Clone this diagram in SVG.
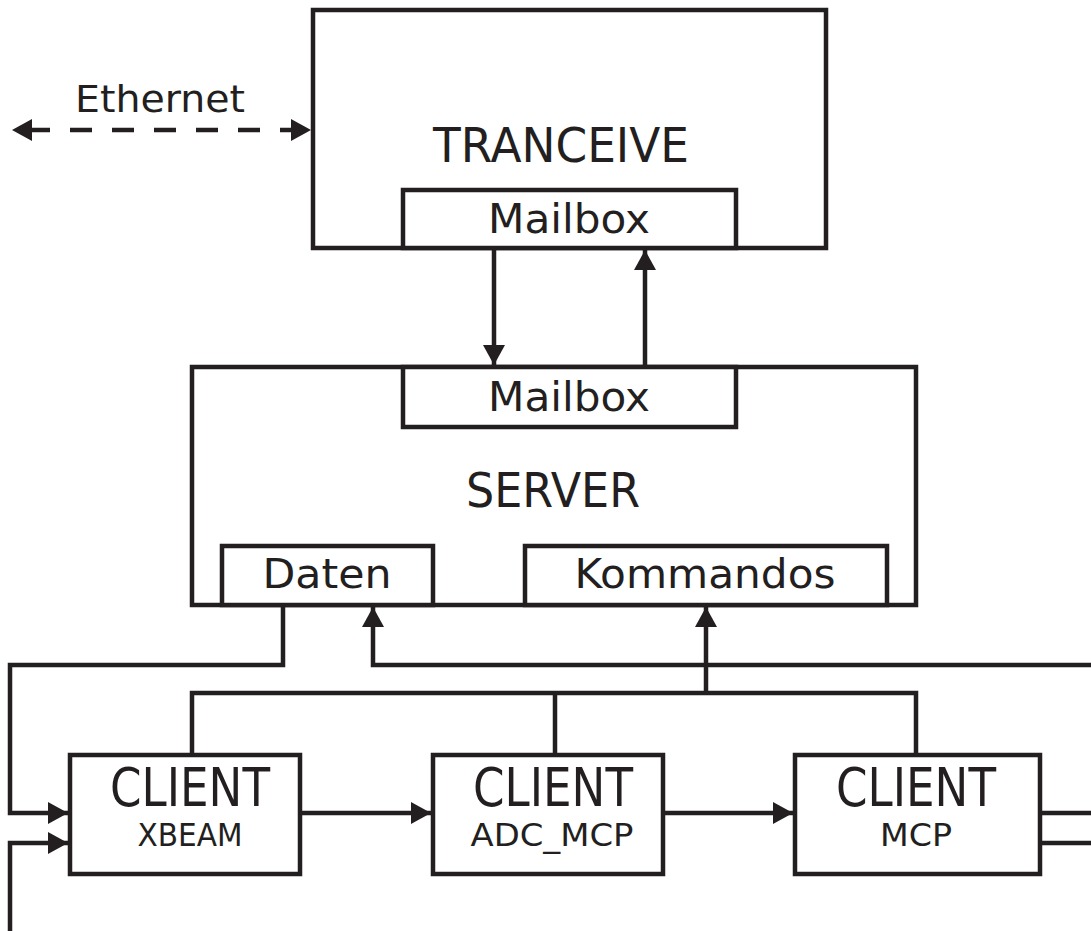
<svg xmlns="http://www.w3.org/2000/svg" width="1091" height="931" viewBox="0 0 1091 931">
<style>
.box{fill:#fff;stroke:#231f20;stroke-width:4.5}
.ln{fill:none;stroke:#231f20;stroke-width:4.5}
.t{font-family:"DejaVu Sans","Liberation Sans",sans-serif;fill:#231f20;text-anchor:middle}
</style>
<defs>
<marker id="ah" markerUnits="userSpaceOnUse" markerWidth="22" markerHeight="22" refX="20" refY="11" orient="auto">
<path d="M0,0 L20,11 L0,22 Z" fill="#231f20"/>
</marker>
<marker id="ahs" markerUnits="userSpaceOnUse" markerWidth="22" markerHeight="22" refX="2" refY="11" orient="auto">
<path d="M22,0 L2,11 L22,22 Z" fill="#231f20"/>
</marker>
</defs>
<rect width="1091" height="931" fill="#fff"/>
<g id="tranceive">
<rect class="box" x="313" y="10" width="513" height="238"/>
<text class="t" x="561" y="162" font-size="48" textLength="256" lengthAdjust="spacingAndGlyphs">TRANCEIVE</text>
</g>
<g id="mailbox-t">
<rect class="box" x="403" y="190" width="333" height="58"/>
<text class="t" x="569" y="233" font-size="40" textLength="162" lengthAdjust="spacingAndGlyphs">Mailbox</text>
</g>
<g id="server">
<rect class="box" x="192" y="367" width="724" height="238"/>
<text class="t" x="553" y="507" font-size="48" textLength="174" lengthAdjust="spacingAndGlyphs">SERVER</text>
</g>
<g id="mailbox-s">
<rect class="box" x="403" y="367" width="333" height="60"/>
<text class="t" x="569" y="411" font-size="40" textLength="162" lengthAdjust="spacingAndGlyphs">Mailbox</text>
</g>
<g id="daten">
<rect class="box" x="222" y="546" width="211" height="59"/>
<text class="t" x="327" y="588" font-size="40" textLength="129" lengthAdjust="spacingAndGlyphs">Daten</text>
</g>
<g id="kommandos">
<rect class="box" x="525" y="546" width="362" height="59"/>
<text class="t" x="705" y="588" font-size="40" textLength="261" lengthAdjust="spacingAndGlyphs">Kommandos</text>
</g>
<g id="client-xbeam">
<rect class="box" x="70" y="755" width="230" height="119"/>
<text class="t" x="190" y="806" font-size="54" textLength="160" lengthAdjust="spacingAndGlyphs">CLIENT</text>
<text class="t" x="190" y="846" font-size="32" textLength="105" lengthAdjust="spacingAndGlyphs">XBEAM</text>
</g>
<g id="client-adc">
<rect class="box" x="433" y="755" width="230" height="119"/>
<text class="t" x="553" y="806" font-size="54" textLength="160" lengthAdjust="spacingAndGlyphs">CLIENT</text>
<text class="t" x="552" y="846" font-size="32" textLength="163" lengthAdjust="spacingAndGlyphs">ADC_MCP</text>
</g>
<g id="client-mcp">
<rect class="box" x="795" y="755" width="245" height="119"/>
<text class="t" x="916" y="806" font-size="54" textLength="160" lengthAdjust="spacingAndGlyphs">CLIENT</text>
<text class="t" x="916" y="846" font-size="32" textLength="72" lengthAdjust="spacingAndGlyphs">MCP</text>
</g>
<g id="ethernet-label">
<text class="t" x="160" y="112" font-size="38" textLength="170" lengthAdjust="spacingAndGlyphs">Ethernet</text>
</g>
<g id="connectors">
<line class="ln" x1="12" y1="130" x2="311" y2="130" stroke-dasharray="22,20" stroke-dashoffset="-16" marker-start="url(#ahs)" marker-end="url(#ah)"/>
<line class="ln" x1="494" y1="248" x2="494" y2="365" marker-end="url(#ah)"/>
<line class="ln" x1="645" y1="367" x2="645" y2="250" marker-end="url(#ah)"/>
<polyline class="ln" points="283,605 283,665 10,665 10,813 68,813" marker-end="url(#ah)"/>
<polyline class="ln" points="10,931 10,843 68,843" marker-end="url(#ah)"/>
<polyline class="ln" points="1091,665 373,665 373,607" marker-end="url(#ah)"/>
<polyline class="ln" points="192,755 192,693 916,693 916,755"/>
<line class="ln" x1="555" y1="693" x2="555" y2="755"/>
<line class="ln" x1="706" y1="693" x2="706" y2="607" marker-end="url(#ah)"/>
<line class="ln" x1="300" y1="813" x2="431" y2="813" marker-end="url(#ah)"/>
<line class="ln" x1="663" y1="813" x2="793" y2="813" marker-end="url(#ah)"/>
<line class="ln" x1="1040" y1="813" x2="1091" y2="813"/>
<line class="ln" x1="1040" y1="843" x2="1091" y2="843"/>
</g>
</svg>
